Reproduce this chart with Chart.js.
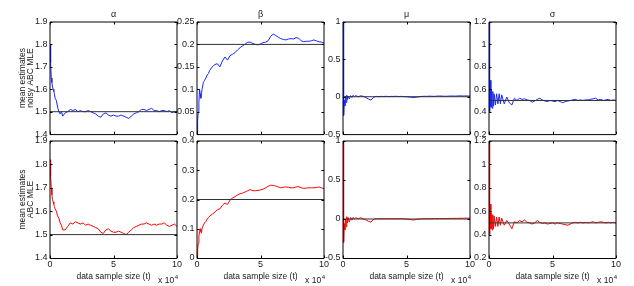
<!DOCTYPE html>
<html><head><meta charset="utf-8">
<script src="https://cdn.jsdelivr.net/npm/chart.js@4/dist/chart.umd.min.js"></script>
<style>
html,body{margin:0;padding:0;background:#fff;}
body{width:634px;height:286px;position:relative;overflow:hidden;}
canvas{position:absolute;}
</style></head><body>
<script>
// ---- data (sample size in units of 10^4) ----
const sampleSize = [0,0.05,0.1,0.15,0.2,0.25,0.3,0.35,0.4,0.5,0.6,0.7,0.8,0.9,1.0,
  1.2,1.4,1.6,1.8,2.0,2.2,2.4,2.6,2.8,3.0,3.2,3.4,3.6,3.8,4.0,4.2,4.4,4.6,4.8,5.0,
  5.2,5.4,5.6,5.8,6.0,6.2,6.4,6.6,6.8,7.0,7.2,7.4,7.6,7.8,8.0,8.2,8.4,8.6,8.8,9.0,
  9.2,9.4,9.6,9.8,10];

const alphaNoisy = [1.80,1.72,1.65,1.63,1.61,1.60,1.59,1.58,1.56,1.55,1.52,1.50,1.49,1.50,1.48,
  1.495,1.50,1.51,1.505,1.51, 1.50,1.505,1.50,1.50,1.505, 1.50,1.495,1.49,1.48,1.475,
  1.49,1.495,1.485,1.48,1.485, 1.48,1.48,1.485,1.48,1.475, 1.47,1.48,1.49,1.495,1.50,
  1.51,1.51,1.505,1.51,1.515, 1.505,1.505,1.50,1.505,1.505, 1.50,1.505,1.495,1.50,1.50];
const betaNoisy = [0.0,0.03,0.05,0.07,0.10,0.09,0.08,0.09,0.10,0.115,0.12,0.125,0.132,0.135,0.142,
  0.15,0.155,0.157,0.15,0.163, 0.172,0.165,0.175,0.178,0.182, 0.188,0.193,0.197,0.201,0.205,
  0.205,0.202,0.200,0.199,0.201, 0.204,0.205,0.208,0.218,0.223, 0.22,0.216,0.213,0.211,0.21,
  0.212,0.213,0.212,0.215,0.214, 0.208,0.206,0.207,0.207,0.208, 0.21,0.208,0.206,0.205,0.203];
const muNoisy = [1.0,-0.25,-0.05,-0.12,0.01,-0.08,0.02,-0.04,0.01,-0.03,0.015,-0.01,0.02,0.0,0.015,
  0.0,0.012,0.005,-0.01,-0.03, -0.045,-0.01,0.005,0.0,0.005, 0.003,0.006,0.002,0.005,0.004,
  0.006,0.003,0.005,0.002,0.0, -0.004,-0.008,-0.01,-0.005,0.0, 0.004,0.006,0.005,0.008,0.006,
  0.005,0.008,0.01,0.008,0.006, 0.007,0.009,0.01,0.008,0.01, 0.012,0.01,0.011,0.01,0.01];
const sigmaNoisy = [1.2,0.40,0.68,0.44,0.60,0.43,0.58,0.45,0.56,0.46,0.56,0.47,0.56,0.47,0.55,
  0.47,0.53,0.48,0.46,0.52, 0.50,0.52,0.51,0.515,0.505, 0.50,0.485,0.495,0.51,0.52,
  0.505,0.495,0.49,0.50,0.495, 0.49,0.50,0.49,0.48,0.49, 0.495,0.50,0.505,0.51,0.50,
  0.505,0.50,0.505,0.505,0.51, 0.515,0.52,0.505,0.51,0.50, 0.505,0.51,0.50,0.505,0.50];

const alphaABC = [1.82,1.75,1.70,1.67,1.65,1.64,1.63,1.62,1.61,1.60,1.58,1.57,1.55,1.54,1.52,
  1.52,1.535,1.55,1.545,1.555, 1.55,1.545,1.55,1.54,1.545, 1.54,1.535,1.53,1.525,1.51,
  1.505,1.52,1.525,1.515,1.51, 1.51,1.515,1.51,1.505,1.50, 1.51,1.52,1.53,1.535,1.54,
  1.545,1.545,1.55,1.545,1.54, 1.545,1.54,1.545,1.545,1.55, 1.54,1.535,1.54,1.545,1.535];
const betaABC = [0.0,0.03,0.05,0.075,0.09,0.10,0.09,0.085,0.10,0.112,0.12,0.125,0.133,0.138,0.143,
  0.15,0.156,0.165,0.168,0.18, 0.188,0.183,0.198,0.205,0.21, 0.216,0.22,0.222,0.226,0.23,
  0.234,0.23,0.23,0.231,0.233, 0.235,0.24,0.245,0.249,0.248, 0.246,0.243,0.24,0.242,0.243,
  0.242,0.24,0.24,0.243,0.244, 0.24,0.238,0.239,0.24,0.24, 0.24,0.241,0.243,0.24,0.237];
const muABC = [1.0,-0.3,-0.06,-0.14,0.0,-0.1,0.03,-0.05,0.02,-0.04,0.02,-0.015,0.02,0.0,0.015,
  0.005,0.015,0.0,-0.01,-0.03, -0.04,-0.005,0.005,0.002,0.004, 0.003,0.005,0.002,0.004,0.003,
  0.005,0.002,0.004,0.001,0.0, -0.004,-0.01,-0.012,-0.005,0.0, 0.003,0.004,0.003,0.005,0.004,
  0.006,0.005,0.007,0.006,0.005, 0.006,0.008,0.007,0.009,0.008, 0.01,0.009,0.011,0.01,0.012];
const sigmaABC = [1.2,0.40,0.66,0.45,0.58,0.44,0.57,0.45,0.56,0.47,0.55,0.47,0.55,0.48,0.54,
  0.48,0.52,0.49,0.45,0.51, 0.50,0.52,0.51,0.525,0.505, 0.50,0.49,0.50,0.52,0.505,
  0.495,0.50,0.49,0.495,0.50, 0.49,0.50,0.495,0.49,0.485, 0.48,0.49,0.50,0.505,0.50,
  0.505,0.50,0.505,0.50,0.505, 0.51,0.50,0.505,0.51,0.505, 0.50,0.505,0.50,0.505,0.50];

const parameterNames = ['α','β','μ','σ'];
const trueValues = [1.5, 0.2, 0, 0.5];
const rowLabels = [['mean estimates','noisy ABC MLE'], ['mean estimates','ABC MLE']];
const xAxisTitle = 'data sample size (t)';
const exponentBase = 'x 10';
const exponentPower = '4';
const xTicks = [0, 5, 10];
const yTicksAlpha = [1.4,1.5,1.6,1.7,1.8,1.9];
const yTicksBetaNoisy = [0,0.05,0.1,0.15,0.2,0.25];
const yTicksBetaABC = [0,0.1,0.2,0.3,0.4];
const yTicksMu = [-0.5,0,0.5,1];
const yTicksSigma = [0.2,0.4,0.6,0.8,1,1.2];

// ---- layout / style ----
const FONT = "'Liberation Sans', Arial, Helvetica, sans-serif";
const TEXT = '#1a1a1a';
const plotLeft = [50, 197, 343, 489];
const plotW = 127;
const fmt = v => String(+Number(v).toFixed(3));

const framePlugin = {
  id: 'frame',
  afterDraw(chart) {
    const {ctx, chartArea: a, scales} = chart;
    const o = chart.options.plugins.frame || {};
    ctx.save();
    ctx.strokeStyle = '#000';
    ctx.lineWidth = 1;
    ctx.beginPath();
    ctx.moveTo(a.left, a.bottom + 0.5); ctx.lineTo(a.left, a.top);
    ctx.lineTo(a.right, a.top); ctx.lineTo(a.right, a.bottom + 0.5);
    ctx.stroke();
    ctx.beginPath();
    ctx.moveTo(a.left, a.bottom + 0.5); ctx.lineTo(a.right, a.bottom + 0.5);
    ctx.stroke();
    const tl = 2.5;
    ctx.beginPath();
    scales.x.ticks.forEach(t => {
      const px = Math.round(scales.x.getPixelForValue(t.value)) + 0.5;
      ctx.moveTo(px, a.bottom); ctx.lineTo(px, a.bottom - tl);
      ctx.moveTo(px, a.top); ctx.lineTo(px, a.top + tl);
    });
    scales.y.ticks.forEach(t => {
      const py = Math.round(scales.y.getPixelForValue(t.value)) + 0.5;
      ctx.moveTo(a.left, py); ctx.lineTo(a.left + tl, py);
      ctx.moveTo(a.right, py); ctx.lineTo(a.right - tl, py);
    });
    ctx.stroke();
    if (o.exponent) {
      ctx.fillStyle = TEXT;
      ctx.textAlign = 'right';
      ctx.textBaseline = 'alphabetic';
      ctx.font = '6px ' + FONT;
      const pw = ctx.measureText(exponentPower).width;
      const rx = a.right + 1;
      ctx.fillText(exponentPower, rx, a.bottom + 21);
      ctx.font = '8.5px ' + FONT;
      ctx.fillText(exponentBase, rx - pw - 0.5, a.bottom + 24.5);
    }
    ctx.restore();
  }
};

function makePanel(row, col, series, yTicks) {
  const yw = col === 0 ? 50 : 32;
  const rp = 10;
  const left = plotLeft[col] - yw;
  const top = row === 0 ? 0 : 133;
  const height = row === 0 ? 142 : 153;
  const width = yw + plotW + rp;
  const cv = document.createElement('canvas');
  cv.width = width; cv.height = height;
  cv.style.left = left + 'px'; cv.style.top = top + 'px';
  cv.style.width = width + 'px'; cv.style.height = height + 'px';
  document.body.appendChild(cv);
  const color = row === 0 ? 'rgb(20,40,255)' : 'rgb(255,0,0)';
  new Chart(cv, {
    type: 'line',
    data: {
      datasets: [
        { data: [{x: xTicks[0], y: trueValues[col]}, {x: xTicks[xTicks.length - 1], y: trueValues[col]}],
          borderColor: '#333', borderWidth: 1 },
        { data: sampleSize.map((x, i) => ({x, y: series[i]})),
          borderColor: color, borderWidth: 1 }
      ]
    },
    options: {
      responsive: false, animation: false, events: [],
      layout: { padding: { top: row === 0 ? 0 : 8, right: rp, bottom: 0, left: 0 } },
      elements: { point: { radius: 0 }, line: { tension: 0 } },
      plugins: {
        legend: { display: false }, tooltip: { enabled: false },
        frame: { exponent: row === 1 },
        title: {
          display: row === 0, text: parameterNames[col], fullSize: false,
          font: { family: FONT, size: 9, weight: 'normal', lineHeight: 1.2 }, color: TEXT,
          padding: { top: 9, bottom: 2.2 }
        }
      },
      scales: {
        x: {
          type: 'linear', min: xTicks[0], max: xTicks[xTicks.length - 1],
          grid: { display: false, drawTicks: false }, border: { display: false },
          ticks: { display: row === 1, padding: 1, autoSkip: false, maxRotation: 0,
                   font: { family: FONT, size: 9, lineHeight: 1.2 }, color: TEXT, callback: fmt },
          afterBuildTicks: s => { s.ticks = xTicks.map(v => ({value: v})); },
          afterFit: s => { s.height = row === 0 ? 6 : 28; },
          title: { display: row === 1, text: xAxisTitle, color: TEXT,
                   font: { family: FONT, size: 8.5, lineHeight: 1.2 }, padding: { top: 0, bottom: 4.5 } }
        },
        y: {
          type: 'linear', min: yTicks[0], max: yTicks[yTicks.length - 1],
          grid: { display: false, drawTicks: false }, border: { display: false },
          ticks: { padding: 2.5, autoSkip: false,
                   font: { family: FONT, size: 9, lineHeight: 1.2 }, color: TEXT, callback: fmt },
          afterBuildTicks: s => { s.ticks = yTicks.map(v => ({value: v})); },
          afterFit: s => { s.width = yw; },
          title: { display: col === 0, text: rowLabels[row], color: TEXT,
                   font: { family: FONT, size: 8.5, lineHeight: 0.95 }, padding: { top: 19, bottom: 0 } }
        }
      }
    },
    plugins: [framePlugin]
  });
}

makePanel(0, 0, alphaNoisy, yTicksAlpha);
makePanel(0, 1, betaNoisy, yTicksBetaNoisy);
makePanel(0, 2, muNoisy, yTicksMu);
makePanel(0, 3, sigmaNoisy, yTicksSigma);
makePanel(1, 0, alphaABC, yTicksAlpha);
makePanel(1, 1, betaABC, yTicksBetaABC);
makePanel(1, 2, muABC, yTicksMu);
makePanel(1, 3, sigmaABC, yTicksSigma);
</script>
</body></html>
